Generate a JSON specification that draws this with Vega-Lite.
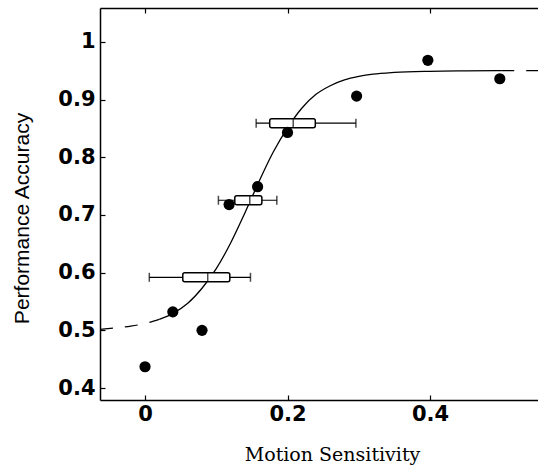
{
  "$schema": "https://vega.github.io/schema/vega-lite/v6.json",
  "width": 438,
  "height": 392,
  "autosize": "none",
  "padding": {"left": 100, "top": 8, "right": 0, "bottom": 72},
  "background": "white",
  "config": {
    "view": {"stroke": null},
    "axis": {
      "grid": false,
      "domainColor": "black",
      "domainWidth": 1.5,
      "tickColor": "black",
      "tickWidth": 1.2,
      "labelColor": "black",
      "titleColor": "black"
    }
  },
  "datasets": {
    "points": [
      {"x": 0.0, "y": 0.437},
      {"x": 0.039, "y": 0.532},
      {"x": 0.08, "y": 0.5},
      {"x": 0.118, "y": 0.718},
      {"x": 0.158, "y": 0.749},
      {"x": 0.2, "y": 0.843},
      {"x": 0.297, "y": 0.906},
      {"x": 0.397, "y": 0.968},
      {"x": 0.498, "y": 0.936}
    ],
    "boxes": [
      {"y": 0.592, "lo": 0.006, "q1": 0.053, "med": 0.088, "q3": 0.119, "hi": 0.148},
      {"y": 0.7255, "lo": 0.103, "q1": 0.126, "med": 0.147, "q3": 0.164, "hi": 0.185},
      {"y": 0.859, "lo": 0.156, "q1": 0.175, "med": 0.208, "q3": 0.239, "hi": 0.296}
    ],
    "curve": [
      {"x": 0.02, "y": 0.519},
      {"x": 0.04, "y": 0.53},
      {"x": 0.06, "y": 0.547},
      {"x": 0.08, "y": 0.573},
      {"x": 0.1, "y": 0.607},
      {"x": 0.12, "y": 0.651},
      {"x": 0.14, "y": 0.703},
      {"x": 0.16, "y": 0.758},
      {"x": 0.18, "y": 0.809},
      {"x": 0.2, "y": 0.851},
      {"x": 0.22, "y": 0.885},
      {"x": 0.24, "y": 0.909},
      {"x": 0.26, "y": 0.924},
      {"x": 0.28, "y": 0.934},
      {"x": 0.3, "y": 0.94},
      {"x": 0.32, "y": 0.944},
      {"x": 0.35, "y": 0.947},
      {"x": 0.4, "y": 0.949},
      {"x": 0.45, "y": 0.9497},
      {"x": 0.5, "y": 0.95}
    ],
    "curveLeft": [
      {"x": -0.0632, "y": 0.5018},
      {"x": -0.04, "y": 0.5045},
      {"x": -0.02, "y": 0.5074},
      {"x": 0.0, "y": 0.5119},
      {"x": 0.02, "y": 0.519}
    ],
    "curveRight": [
      {"x": 0.5, "y": 0.95},
      {"x": 0.5516, "y": 0.95}
    ]
  },
  "resolve": {"axis": {"x": "independent"}},
  "layer": [
    {
      "data": {"name": "curveLeft"},
      "mark": {"type": "line", "color": "black", "strokeWidth": 1.2, "strokeDash": [13, 12], "interpolate": "monotone"},
      "encoding": {
        "x": {"field": "x", "type": "quantitative", "scale": {"domain": [-0.0632, 0.5516], "nice": false, "zero": false},
          "axis": {"orient": "top", "values": [0, 0.2, 0.4], "labels": false, "tickSize": -5, "title": null, "domainWidth": 1.5}},
        "y": {"field": "y", "type": "quantitative",
          "scale": {"domain": [0.388, 1.05], "nice": false, "zero": false},
          "axis": {"values": [0.4, 0.5, 0.6, 0.7, 0.8, 0.9, 1], "format": "~g", "tickSize": -5, "labelPadding": 10,
            "labelFont": "DejaVu Sans", "labelFontWeight": "bold", "labelFontSize": 21,
            "title": "Performance Accuracy", "titleFont": "Liberation Sans", "titleFontWeight": "normal", "titleFontSize": 21,
            "titleX": -78, "titleY": 210, "titleAngle": -90, "titleBaseline": "middle", "titleAlign": "center"}}
      }
    },
    {
      "data": {"name": "curveRight"},
      "mark": {"type": "line", "color": "black", "strokeWidth": 1.2, "strokeDash": [13, 12]},
      "encoding": {
        "x": {"field": "x", "type": "quantitative", "axis": null},
        "y": {"field": "y", "type": "quantitative"}
      }
    },
    {
      "data": {"name": "curve"},
      "mark": {"type": "line", "color": "black", "strokeWidth": 1.3, "interpolate": "monotone"},
      "encoding": {
        "x": {"field": "x", "type": "quantitative", "axis": null},
        "y": {"field": "y", "type": "quantitative"}
      }
    },
    {
      "data": {"name": "boxes"},
      "mark": {"type": "rule", "color": "black", "strokeWidth": 1.2},
      "encoding": {
        "x": {"field": "lo", "type": "quantitative", "axis": null},
        "x2": {"field": "hi"},
        "y": {"field": "y", "type": "quantitative"}
      }
    },
    {
      "data": {"name": "boxes"},
      "mark": {"type": "bar", "orient": "horizontal", "size": 9, "fill": "white", "stroke": "black", "strokeWidth": 1.5, "cornerRadius": 2},
      "encoding": {
        "x": {"field": "q1", "type": "quantitative", "axis": null},
        "x2": {"field": "q3"},
        "y": {"field": "y", "type": "quantitative"}
      }
    },
    {
      "data": {"name": "boxes"},
      "mark": {"type": "tick", "orient": "vertical", "size": 9, "thickness": 1.5, "color": "black"},
      "encoding": {
        "x": {"field": "med", "type": "quantitative", "axis": null},
        "y": {"field": "y", "type": "quantitative"}
      }
    },
    {
      "data": {"name": "boxes"},
      "mark": {"type": "tick", "orient": "vertical", "size": 9, "thickness": 1.5, "color": "black"},
      "encoding": {
        "x": {"field": "lo", "type": "quantitative", "axis": null},
        "y": {"field": "y", "type": "quantitative"}
      }
    },
    {
      "data": {"name": "boxes"},
      "mark": {"type": "tick", "orient": "vertical", "size": 9, "thickness": 1.5, "color": "black"},
      "encoding": {
        "x": {"field": "hi", "type": "quantitative", "axis": null},
        "y": {"field": "y", "type": "quantitative"}
      }
    },
    {
      "data": {"name": "points"},
      "mark": {"type": "circle", "size": 125, "color": "black", "opacity": 1},
      "encoding": {
        "x": {"field": "x", "type": "quantitative",
          "axis": {"orient": "bottom", "values": [0, 0.2, 0.4], "format": "~g", "tickSize": -5, "labelPadding": 8,
            "labelFont": "DejaVu Sans", "labelFontWeight": "bold", "labelFontSize": 21,
            "title": "Motion Sensitivity", "titleFont": "DejaVu Serif", "titleFontWeight": "normal", "titleFontSize": 19,
            "titleX": 232, "titleY": 60, "titleBaseline": "alphabetic", "titleAlign": "center"}},
        "y": {"field": "y", "type": "quantitative"}
      }
    }
  ]
}
